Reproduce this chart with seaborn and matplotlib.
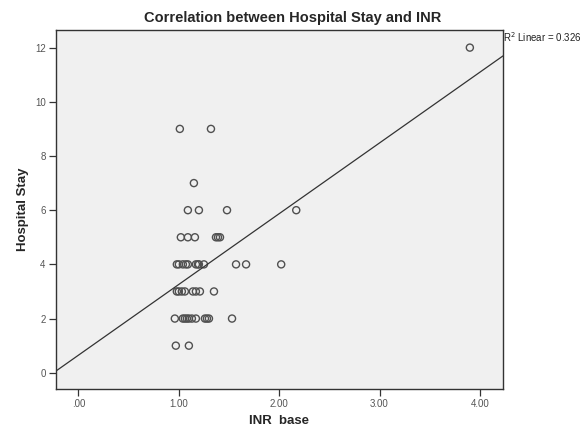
import numpy as np
import pandas as pd
import matplotlib
matplotlib.use("Agg")
import matplotlib.pyplot as plt
import seaborn as sns

# valeurs
inr_base = [3.90,
            1.01, 1.32,
            1.15,
            1.09, 1.20, 1.48, 2.17,
            1.02, 1.09, 1.16, 1.37, 1.39, 1.41,
            0.98, 1.00, 1.04, 1.07, 1.09, 1.17, 1.19, 1.20, 1.25, 1.57, 1.67, 2.02,
            0.98, 1.00, 1.03, 1.06, 1.14, 1.17, 1.21, 1.35,
            0.96, 1.04, 1.06, 1.08, 1.10, 1.13, 1.17, 1.26, 1.28, 1.30, 1.53,
            0.97, 1.10]
hospital_stay = [12,
                 9, 9,
                 7,
                 6, 6, 6, 6,
                 5, 5, 5, 5, 5, 5,
                 4, 4, 4, 4, 4, 4, 4, 4, 4, 4, 4, 4,
                 3, 3, 3, 3, 3, 3, 3, 3,
                 2, 2, 2, 2, 2, 2, 2, 2, 2, 2, 2,
                 1, 1]
x_ticks = [0, 1, 2, 3, 4]
x_tick_labels = [".00", "1.00", "2.00", "3.00", "4.00"]
y_ticks = [0, 2, 4, 6, 8, 10, 12]
r2_label = "R$^2$ Linear = 0.326"

df = pd.DataFrame({"INR base": inr_base, "Hospital Stay": hospital_stay})

sns.set_style("ticks")
plt.rcParams["font.family"] = ["Liberation Sans", "DejaVu Sans"]

fig = plt.figure(figsize=(5.81, 4.28), dpi=100)
ax = fig.add_axes([0.0964, 0.0911, 0.7693, 0.8388])
ax.set_facecolor("#f0f0f0")
ax.set_xlim(-0.224, 4.23)
ax.set_ylim(-0.6, 12.65)

sns.scatterplot(data=df, x="INR base", y="Hospital Stay", ax=ax,
                marker="o", s=26, facecolor="none", edgecolor="#505050",
                linewidth=1.0)
sns.regplot(data=df, x="INR base", y="Hospital Stay", ax=ax, scatter=False,
            ci=None, truncate=False, line_kws={"color": "#333333", "lw": 0.9})
ax.set_xlim(-0.224, 4.23)
ax.set_ylim(-0.6, 12.65)

ax.set_xticks(x_ticks)
ax.set_xticklabels(x_tick_labels)
ax.set_yticks(y_ticks)
ax.tick_params(axis="both", labelsize=7, colors="#333333", length=5,
               width=0.9, labelcolor="#555555", pad=2.5)
for sp in ax.spines.values():
    sp.set_visible(True)
    sp.set_color("#333333")
    sp.set_linewidth(1.0)

ax.set_xlabel("INR  base", fontsize=9.5, fontweight="bold", labelpad=4)
ax.set_ylabel("Hospital Stay", fontsize=9.5, fontweight="bold", labelpad=4)
fig.text(293 / 581, 1 - 18 / 428, "Correlation between Hospital Stay and INR",
         fontsize=10.5, fontweight="bold", ha="center", va="center")
ax.text(1.001, 1.0, r2_label, transform=ax.transAxes, fontsize=7,
        ha="left", va="top", color="#222222", clip_on=False)

fig.savefig("out.png", dpi=100)
